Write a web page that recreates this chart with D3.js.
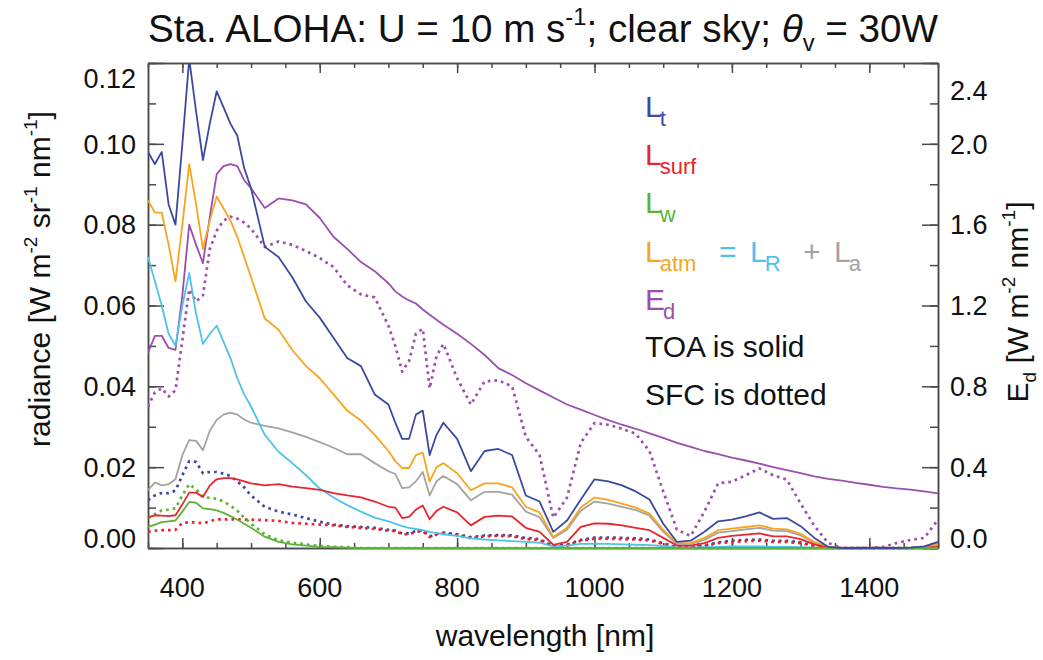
<!DOCTYPE html>
<html><head><meta charset="utf-8">
<script src="https://cdn.jsdelivr.net/npm/d3@7"></script>
<style>body{margin:0;background:#fff}svg{font-family:"Liberation Sans",Arial,Helvetica,sans-serif}</style>
</head><body><svg id="c" width="1043" height="660"></svg>
<script>
const wavelength=[350,360,370,380,390,400,410,420,430,440,450,460,470,480,490,500,520,540,560,580,600,620,640,660,680,700,710,720,730,740,750,760,770,780,800,820,840,860,880,900,920,940,960,980,1000,1020,1040,1060,1080,1100,1120,1140,1160,1180,1200,1220,1240,1260,1280,1300,1320,1340,1360,1380,1400,1420,1440,1460,1480,1500];
// TOA (solid)
const Lt_toa=[0.098,0.095,0.098,0.085,0.080,0.100,0.121,0.108,0.096,0.105,0.113,0.109,0.105,0.102,0.094,0.089,0.0745,0.072,0.067,0.061,0.057,0.052,0.047,0.045,0.038,0.0355,0.031,0.027,0.027,0.033,0.034,0.023,0.028,0.031,0.027,0.019,0.024,0.0245,0.023,0.013,0.0115,0.004,0.0068,0.012,0.017,0.0165,0.0155,0.014,0.012,0.006,0.0015,0.0018,0.004,0.0066,0.007,0.0078,0.0088,0.0072,0.0074,0.0054,0.0025,0.0003,0,0,0,0,0,0.0001,0.0004,0.0015];
const Lsurf_toa=[0.0076,0.0081,0.0080,0.0079,0.0081,0.0108,0.0137,0.0137,0.0126,0.0155,0.0170,0.0173,0.0173,0.0170,0.0165,0.0160,0.0155,0.0158,0.0152,0.0148,0.0144,0.0136,0.0130,0.0125,0.0115,0.0102,0.0100,0.0074,0.0077,0.0095,0.0105,0.0071,0.0092,0.0102,0.0088,0.0056,0.0077,0.0080,0.0078,0.0050,0.0040,0.0008,0.0015,0.0052,0.0061,0.0060,0.0056,0.0050,0.0044,0.0025,0.0006,0.0006,0.0012,0.0025,0.0030,0.0033,0.0036,0.0029,0.0029,0.0022,0.0009,0.0001,0,0,0,0,0,0,0.0001,0.0003];
const Lw_toa=[0.0052,0.0058,0.0064,0.0066,0.0068,0.0090,0.0114,0.0112,0.0098,0.0096,0.0093,0.0087,0.0079,0.0070,0.0060,0.0050,0.0028,0.0015,0.0009,0.0006,0.0003,0.0002,0.0001,0,0,0,0,0,0,0,0,0,0,0,0,0,0,0,0,0,0,0,0,0,0,0,0,0,0,0,0,0,0,0,0,0,0,0,0,0,0,0,0,0,0,0,0,0,0,0];
const Latm_toa=[0.086,0.083,0.083,0.075,0.066,0.080,0.095,0.085,0.074,0.081,0.087,0.084,0.081,0.077,0.072,0.067,0.0568,0.054,0.049,0.045,0.042,0.038,0.034,0.0315,0.028,0.024,0.0215,0.0198,0.0198,0.023,0.0236,0.0164,0.020,0.021,0.0185,0.0143,0.016,0.016,0.015,0.0102,0.0088,0.0027,0.005,0.010,0.0125,0.0119,0.011,0.010,0.0085,0.0045,0.0012,0.0012,0.0025,0.0044,0.0048,0.0052,0.0056,0.0048,0.0046,0.0035,0.0015,0.0002,0,0,0,0,0,0,0.0002,0.001];
const LR_toa=[0.072,0.066,0.060,0.053,0.050,0.060,0.068,0.058,0.0505,0.053,0.055,0.051,0.047,0.042,0.038,0.035,0.028,0.0238,0.021,0.018,0.0147,0.0125,0.0106,0.009,0.0075,0.0066,0.006,0.0054,0.005,0.0047,0.0044,0.004,0.0037,0.0034,0.003,0.0024,0.0021,0.0019,0.0017,0.0015,0.0013,0.0004,0.0006,0.001,0.0011,0.001,0.0009,0.0008,0.0007,0.0005,0.0001,0.0001,0.0002,0.0003,0.0004,0.0004,0.0004,0.0003,0.0003,0.0002,0.0001,0,0,0,0,0,0,0,0,0];
const La_toa=[0.0143,0.0162,0.0155,0.0158,0.017,0.023,0.0267,0.0265,0.0242,0.029,0.0317,0.033,0.0335,0.033,0.0318,0.031,0.0302,0.0296,0.0286,0.0275,0.0262,0.0248,0.0232,0.0232,0.021,0.019,0.0183,0.0148,0.015,0.0165,0.0188,0.013,0.0165,0.0178,0.0158,0.0118,0.0139,0.0139,0.0132,0.009,0.0076,0.0025,0.0045,0.0092,0.0115,0.011,0.0102,0.0094,0.008,0.004,0.001,0.001,0.002,0.0038,0.0042,0.0046,0.005,0.0043,0.0042,0.0031,0.0013,0.0002,0,0,0,0,0,0,0.0002,0.0008];
const Ed_toa=[0.965,1.05,1.05,0.99,0.98,1.25,1.60,1.50,1.41,1.64,1.85,1.89,1.90,1.89,1.82,1.78,1.683,1.73,1.72,1.70,1.633,1.54,1.48,1.415,1.37,1.31,1.27,1.245,1.225,1.21,1.18,1.154,1.13,1.105,1.06,1.01,0.955,0.89,0.856,0.815,0.78,0.745,0.71,0.685,0.658,0.633,0.61,0.59,0.567,0.545,0.52,0.50,0.48,0.464,0.447,0.433,0.418,0.40,0.385,0.37,0.355,0.342,0.333,0.322,0.313,0.303,0.295,0.289,0.28,0.27];
// SFC (dotted)
const Lt_sfc=[0.0118,0.013,0.0136,0.0136,0.0142,0.018,0.0215,0.0213,0.0185,0.0188,0.0188,0.0184,0.0178,0.0165,0.015,0.013,0.0102,0.009,0.0083,0.0074,0.0065,0.0058,0.0054,0.0052,0.005,0.0045,0.0043,0.0036,0.0036,0.0042,0.0044,0.0028,0.0035,0.0038,0.0034,0.0027,0.0031,0.0032,0.0031,0.0025,0.0022,0.0004,0.0008,0.002,0.0026,0.0026,0.0025,0.0024,0.0021,0.0012,0.0002,0.0002,0.0006,0.0014,0.0018,0.002,0.0021,0.0018,0.0018,0.0014,0.0006,0.0001,0,0,0,0,0,0,0.0001,0.0003];
const Lsurf_sfc=[0.004,0.0043,0.0044,0.0044,0.0045,0.0062,0.0064,0.0063,0.0061,0.0066,0.0071,0.0071,0.0071,0.0071,0.007,0.007,0.0069,0.0067,0.0062,0.006,0.0058,0.0056,0.0052,0.005,0.0047,0.0043,0.0042,0.0034,0.0034,0.004,0.0042,0.0027,0.0033,0.0036,0.0032,0.0024,0.0029,0.003,0.0029,0.0022,0.002,0.0003,0.0006,0.0018,0.0023,0.0023,0.0022,0.0021,0.0019,0.001,0.0001,0.0001,0.0005,0.0012,0.0015,0.0017,0.0018,0.0015,0.0015,0.0012,0.0005,0,0,0,0,0,0,0,0,0.0001];
const Lw_sfc=[0.0074,0.0084,0.0093,0.0095,0.0098,0.013,0.0158,0.0145,0.0126,0.0124,0.0122,0.0115,0.0105,0.0092,0.0075,0.006,0.0034,0.0019,0.0013,0.0009,0.0005,0.0003,0.0002,0,0,0,0,0,0,0,0,0,0,0,0,0,0,0,0,0,0,0,0,0,0,0,0,0,0,0,0,0,0,0,0,0,0,0,0,0,0,0,0,0,0,0,0,0,0,0];
const Ed_sfc=[0.70,0.77,0.79,0.75,0.78,1.03,1.28,1.22,1.25,1.48,1.57,1.62,1.64,1.63,1.61,1.58,1.49,1.517,1.50,1.47,1.435,1.39,1.30,1.255,1.24,1.10,1.00,0.873,0.925,1.06,1.085,0.79,0.95,1.01,0.84,0.71,0.825,0.83,0.80,0.55,0.46,0.15,0.25,0.52,0.618,0.61,0.59,0.565,0.48,0.28,0.09,0.06,0.18,0.32,0.328,0.36,0.394,0.36,0.338,0.22,0.11,0.025,0,0,0.001,0.005,0.025,0.04,0.05,0.14];
const xTicks=[400,600,800,1000,1200,1400];
const yLeftTicks=[0,0.02,0.04,0.06,0.08,0.10,0.12];
const yRightTicks=[0,0.4,0.8,1.2,1.6,2.0,2.4];

const svg=d3.select("#c");
const L=148,R=938,T=63,B=548;
const x=d3.scaleLinear().domain([350,1500]).range([L,R]);
const yL=d3.scaleLinear().domain([0,0.12]).range([B,T]);
const yR=d3.scaleLinear().domain([0,2.4]).range([B,T]);
const frameC="#4a4a4a";

svg.append("defs").append("clipPath").attr("id","clip").append("rect")
  .attr("x",L).attr("y",T).attr("width",R-L).attr("height",B-T+1.5);

// axes (inward ticks)
function styleAxis(g){g.select(".domain").attr("stroke",frameC).attr("stroke-width",1.5);g.selectAll(".tick line").attr("stroke",frameC).attr("stroke-width",1.5);g.selectAll("text").remove();}
const minorX=d3.range(350,1501,50);
svg.append("g").attr("transform",`translate(0,${B})`).call(d3.axisBottom(x).tickValues(minorX).tickSize(-5).tickSizeOuter(0)).call(styleAxis);
svg.append("g").attr("transform",`translate(0,${B})`).call(d3.axisBottom(x).tickValues(xTicks).tickSize(-10).tickSizeOuter(0)).call(styleAxis);
svg.append("g").attr("transform",`translate(0,${T})`).call(d3.axisTop(x).tickValues(minorX).tickSize(-5).tickSizeOuter(0)).call(styleAxis);
svg.append("g").attr("transform",`translate(0,${T})`).call(d3.axisTop(x).tickValues(xTicks).tickSize(-10).tickSizeOuter(0)).call(styleAxis);
svg.append("g").attr("transform",`translate(${L},0)`).call(d3.axisLeft(yL).tickValues(d3.range(0,0.1201,0.01)).tickSize(-8).tickSizeOuter(0)).call(styleAxis);
svg.append("g").attr("transform",`translate(${L},0)`).call(d3.axisLeft(yL).tickValues(yLeftTicks).tickSize(-16).tickSizeOuter(0)).call(styleAxis);
svg.append("g").attr("transform",`translate(${R},0)`).call(d3.axisRight(yR).tickValues(d3.range(0,2.401,0.2)).tickSize(-8).tickSizeOuter(0)).call(styleAxis);
svg.append("g").attr("transform",`translate(${R},0)`).call(d3.axisRight(yR).tickValues(yRightTicks).tickSize(-16).tickSizeOuter(0)).call(styleAxis);

// tick labels
const tf={"font-size":"27px",fill:"#111"};
function applyAttrs(s,o){for(const k in o)s.attr(k,o[k]);return s;}
svg.append("g").selectAll("text").data(xTicks).join("text")
  .attr("x",d=>x(d)).attr("y",B+49).attr("text-anchor","middle").text(d=>d).call(s=>applyAttrs(s,tf));
svg.append("g").selectAll("text").data(yLeftTicks).join("text")
  .attr("x",L-12).attr("y",d=>Math.min(B-10,Math.max(T+15,yL(d)))).attr("dy","0.36em").attr("text-anchor","end")
  .text(d=>d3.format(".2f")(d)).call(s=>applyAttrs(s,tf));
svg.append("g").selectAll("text").data(yRightTicks).join("text")
  .attr("x",R+12).attr("y",d=>Math.min(B-10,Math.max(T+27,yR(d)))).attr("dy","0.36em").attr("text-anchor","start")
  .text(d=>d3.format(".1f")(d)).call(s=>applyAttrs(s,tf));

// lines
const colors={Lt:"#3a4a9f",Lsurf:"#e8262e",Lw:"#5cb335",Latm:"#f7a520",LR:"#4ec3ea",La:"#a3a3a3",Ed:"#9b4eae"};
const plot=svg.append("g").attr("clip-path","url(#clip)");
const series=[
  {v:Ed_sfc,c:colors.Ed,y:yR,dot:true},
  {v:Lt_sfc,c:colors.Lt,y:yL,dot:true},
  {v:Lsurf_sfc,c:colors.Lsurf,y:yL,dot:true},
  {v:Lw_sfc,c:colors.Lw,y:yL,dot:true},
  {v:Ed_toa,c:colors.Ed,y:yR},
  {v:La_toa,c:colors.La,y:yL},
  {v:LR_toa,c:colors.LR,y:yL},
  {v:Latm_toa,c:colors.Latm,y:yL},
  {v:Lsurf_toa,c:colors.Lsurf,y:yL},
  {v:Lw_toa,c:colors.Lw,y:yL},
  {v:Lt_toa,c:colors.Lt,y:yL}
];
series.forEach(s=>{
  const line=d3.line().x((d,i)=>x(wavelength[i])).y(d=>s.y(d));
  const p=plot.append("path").datum(s.v).attr("d",line).attr("fill","none").attr("stroke",s.c)
    .attr("stroke-width",s.dot?2.7:1.8).attr("stroke-linejoin","round");
  if(s.dot)p.attr("stroke-dasharray","2.7 4");
});

// title
const title=svg.append("text").attr("x",543).attr("y",42).attr("text-anchor","middle").attr("font-size","39px").attr("fill","#111");
title.append("tspan").text("Sta. ALOHA: U = 10 m s");
title.append("tspan").attr("font-size","24px").attr("dy",-17).text("-1");
title.append("tspan").attr("dy",17).text("; clear sky; ");
title.append("tspan").attr("font-style","italic").text("θ");
title.append("tspan").attr("font-size","24px").attr("dy",9).text("v");
title.append("tspan").attr("dy",-9).text(" = 30W");
const tw=title.node().getComputedTextLength();
title.attr("transform",`translate(543,0) scale(${790/tw},1) translate(-543,0)`);

// axis titles
svg.append("text").attr("x",545).attr("y",646).attr("text-anchor","middle").attr("font-size","30px").attr("fill","#111").text("wavelength [nm]");
const ylt=svg.append("text").attr("transform","translate(50,279) rotate(-90)").attr("text-anchor","middle").attr("font-size","30px").attr("fill","#111");
ylt.append("tspan").text("radiance [W m");
ylt.append("tspan").attr("font-size","19px").attr("dy",-13).text("-2");
ylt.append("tspan").attr("dy",13).text(" sr");
ylt.append("tspan").attr("font-size","19px").attr("dy",-13).text("-1");
ylt.append("tspan").attr("dy",13).text(" nm");
ylt.append("tspan").attr("font-size","19px").attr("dy",-13).text("-1");
ylt.append("tspan").attr("dy",13).text("]");
const yrt=svg.append("text").attr("transform","translate(1028,302) rotate(-90)").attr("text-anchor","middle").attr("font-size","30px").attr("fill","#111");
yrt.append("tspan").text("E");
yrt.append("tspan").attr("font-size","19px").attr("dy",8).text("d");
yrt.append("tspan").attr("dy",-8).text(" [W m");
yrt.append("tspan").attr("font-size","19px").attr("dy",-13).text("-2");
yrt.append("tspan").attr("dy",13).text(" nm");
yrt.append("tspan").attr("font-size","19px").attr("dy",-13).text("-1");
yrt.append("tspan").attr("dy",13).text("]");

// legend
const lg=svg.append("g").attr("font-size","30px");
function sym(xp,yb,main,sub,col){
  const t=lg.append("text").attr("x",xp).attr("y",yb).attr("fill",col);
  t.append("tspan").text(main);
  t.append("tspan").attr("font-size","22px").attr("dy",9).attr("dx",-2).text(sub);
  return t;
}
sym(645,116.7,"L","t",colors.Lt);
sym(645,165,"L","surf",colors.Lsurf);
sym(645,213,"L","w",colors.Lw);
sym(645,262,"L","atm",colors.Latm);
lg.append("text").attr("x",719).attr("y",262).attr("fill",colors.LR).text("=");
sym(750,262,"L","R",colors.LR);
lg.append("text").attr("x",803).attr("y",262).attr("fill",colors.La).text("+");
sym(834,262,"L","a",colors.La);
sym(645,310,"E","d",colors.Ed);
lg.append("text").attr("x",645).attr("y",357).attr("fill","#111").text("TOA is solid");
lg.append("text").attr("x",645).attr("y",405).attr("fill","#111").text("SFC is dotted");
</script></body></html>
